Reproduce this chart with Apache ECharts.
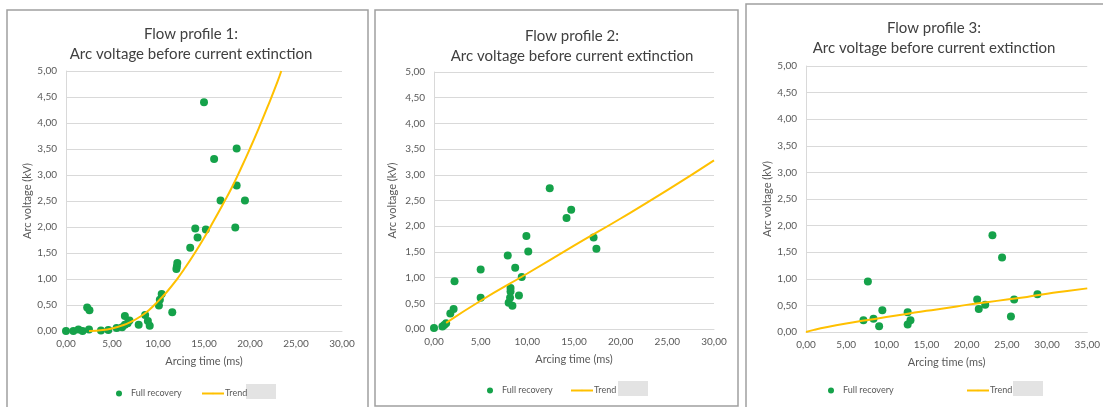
<!DOCTYPE html>
<html>
<head>
<meta charset="utf-8">
<script src="https://cdn.jsdelivr.net/npm/echarts@6/dist/echarts.min.js"></script>
<style>
  html, body { margin: 0; padding: 0; background: #fff; }
  #main { width: 1103px; height: 407px; }
</style>
</head>
<body>
<div id="main"></div>
<script type="text/javascript">
    // measured points, [arcing time (ms), arc voltage (kV)]
    var recovery1 = [
        [0, 0], [0.8, 0], [1.35, 0.03], [1.8, 0], [2.3, 0.45], [2.55, 0.4], [2.5, 0.03],
        [3.8, 0.01], [4.6, 0.02], [5.5, 0.06], [6.1, 0.07], [6.4, 0.29], [6.4, 0.12],
        [6.7, 0.15], [6.9, 0.2], [7.9, 0.12], [8.6, 0.31], [8.9, 0.19], [9.1, 0.1],
        [10.1, 0.49], [10.2, 0.6], [10.4, 0.71], [11.55, 0.36], [12.0, 1.19], [12.05, 1.24],
        [12.1, 1.31], [13.5, 1.6], [14.05, 1.97], [14.3, 1.8], [15.0, 4.4], [15.2, 1.95],
        [16.1, 3.31], [16.8, 2.51], [18.4, 1.99], [18.55, 3.51], [18.55, 2.8], [19.45, 2.51]
    ];
    var trend1 = [
        [2.5, 0], [4, 0.02], [5, 0.05], [6, 0.1], [7, 0.17], [8, 0.27], [9, 0.4], [10, 0.57],
        [11, 0.76], [12, 0.98], [13, 1.23], [14, 1.5], [15, 1.79], [16, 2.1], [17, 2.42],
        [18, 2.75], [19, 3.12], [20, 3.51], [21, 3.92], [22, 4.35], [23, 4.8], [23.4, 5.0]
    ];
    var recovery2 = [
        [0, 0.02], [0.9, 0.05], [1.1, 0.08], [1.3, 0.11], [1.75, 0.3], [2.1, 0.39], [2.2, 0.93],
        [5.0, 0.61], [5.0, 1.16], [7.9, 1.43], [8.0, 0.51], [8.2, 0.8], [8.2, 0.73], [8.15, 0.61],
        [8.4, 0.45], [8.7, 1.19], [9.1, 0.65], [9.4, 1.01], [9.9, 1.81], [10.1, 1.51],
        [12.4, 2.74], [14.2, 2.16], [14.7, 2.32], [17.1, 1.78], [17.4, 1.56]
    ];
    var trend2 = [
        [1.3, 0.12], [5, 0.55], [10, 1.08], [15, 1.62], [20, 2.15], [25, 2.7], [30, 3.28]
    ];
    var recovery3 = [
        [7.15, 0.22], [7.7, 0.95], [8.4, 0.25], [9.1, 0.11], [9.5, 0.41], [12.65, 0.37],
        [12.65, 0.14], [13.0, 0.22], [21.3, 0.61], [21.5, 0.43], [22.3, 0.51], [23.2, 1.82],
        [24.4, 1.4], [25.5, 0.29], [25.9, 0.61], [28.8, 0.71]
    ];
    var trend3 = [
        [0, 0], [1, 0.04], [2.5, 0.09], [5, 0.16], [7.5, 0.22], [10, 0.28], [12.5, 0.34],
        [15, 0.4], [17.5, 0.45], [20, 0.51], [22.5, 0.56], [25, 0.61], [27.5, 0.66],
        [30, 0.72], [32.5, 0.77], [35, 0.82]
    ];
    var titles = ['Flow profile 1:', 'Flow profile 2:', 'Flow profile 3:'];
    var xMax = [30, 30, 35];

    var FONT = 'Lato';
    var GREEN = '#15a24a';
    var GOLD = '#ffc000';

    // layout of each panel (pixels on the page)
    var panels = [
        { box: [7, 10, 361, 410], grid: [66, 71, 342, 331], titleX: 186, titleY: 19, yGap: 28,
          dotX: 111, lineX: 196, boxX: 246, legY: 384 },
        { box: [375, 10, 363, 396], grid: [434, 72, 714, 329], titleX: 567, titleY: 21, yGap: 36,
          dotX: 482, lineX: 565, boxX: 618, legY: 381 },
        { box: [746, 4, 370, 420], grid: [806, 66, 1090, 332], titleX: 929, titleY: 13, yGap: 29,
          dotX: 823, lineX: 961, boxX: 1013, legY: 381 }
    ];
    var recovery = [recovery1, recovery2, recovery3];
    var trend = [trend1, trend2, trend3];

    function fmt(v) { return v.toFixed(2).replace('.', ','); }

    var option = {
        animation: false,
        title: [], grid: [], xAxis: [], yAxis: [], legend: [], series: [], graphic: []
    };

    panels.forEach(function (p, i) {
        option.graphic.push({
            type: 'rect', silent: true, z: -1,
            shape: { x: p.box[0], y: p.box[1], width: p.box[2], height: p.box[3] },
            style: { fill: '#fff', stroke: '#a0a0a0', lineWidth: 1.5 }
        });
        option.graphic.push({
            type: 'rect', silent: true,
            shape: { x: p.boxX, y: p.legY, width: 30, height: 15 },
            style: { fill: '#e3e3e3' }
        });
        option.title.push({
            text: titles[i] + '\nArc voltage before current extinction',
            left: p.titleX, top: p.titleY, textAlign: 'center',
            textStyle: { fontFamily: FONT, fontSize: 15, fontWeight: 'normal', color: '#404040', lineHeight: 20 }
        });
        option.grid.push({
            left: p.grid[0], top: p.grid[1], right: 1103 - p.grid[2], bottom: 407 - p.grid[3]
        });
        option.xAxis.push({
            type: 'value', gridIndex: i, min: 0, max: xMax[i], interval: 5,
            name: 'Arcing time (ms)', nameLocation: 'middle', nameGap: 25,
            nameTextStyle: { fontFamily: FONT, fontSize: 11, color: '#595959' },
            axisLine: { lineStyle: { color: '#d9d9d9' } },
            axisTick: { show: false },
            splitLine: { show: false },
            axisLabel: { formatter: fmt, fontFamily: FONT, fontSize: 10, color: '#595959', margin: 8 }
        });
        option.yAxis.push({
            type: 'value', gridIndex: i, min: 0, max: 5, interval: 0.5,
            name: 'Arc voltage (kV)', nameLocation: 'middle', nameGap: p.yGap, nameRotate: 90,
            nameTextStyle: { fontFamily: FONT, fontSize: 11, color: '#595959' },
            axisLine: { show: true, lineStyle: { color: '#d9d9d9' } },
            axisTick: { show: false },
            splitLine: { lineStyle: { color: '#d9d9d9' } },
            axisLabel: { formatter: fmt, fontFamily: FONT, fontSize: 10, color: '#595959', margin: 9 }
        });
        option.legend.push({
            data: ['Full recovery'], left: p.dotX, top: p.legY, itemWidth: 6, itemHeight: 6,
            icon: 'circle',
            textStyle: { fontFamily: FONT, fontSize: 9, color: '#595959', padding: [0, 0, 0, 4] }
        });
        option.legend.push({
            data: ['Trend'], left: p.lineX, top: p.legY, itemWidth: 22, itemHeight: 2,
            textStyle: { fontFamily: FONT, fontSize: 9, color: '#595959', padding: [0, 0, 0, -4] }
        });
        option.series.push({
            name: 'Trend', type: 'line', xAxisIndex: i, yAxisIndex: i,
            data: trend[i], smooth: true, showSymbol: false, symbol: 'none',
            lineStyle: { color: GOLD, width: 2 }, itemStyle: { color: GOLD }
        });
        option.series.push({
            name: 'Full recovery', type: 'scatter', xAxisIndex: i, yAxisIndex: i,
            data: recovery[i], symbolSize: 8,
            itemStyle: { color: GREEN, opacity: 1 }
        });
    });

    var myChart = echarts.init(document.getElementById('main'));
    myChart.setOption(option);
</script>
</body>
</html>
